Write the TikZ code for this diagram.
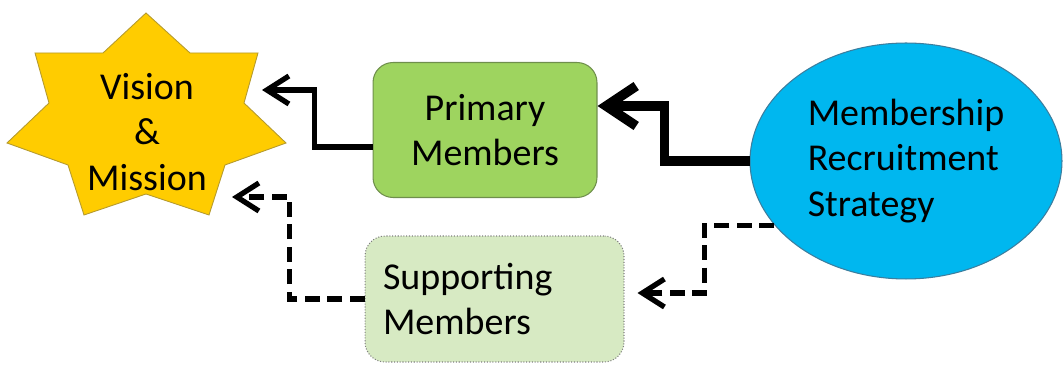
\documentclass[tikz,border=0pt]{standalone}
\usepackage{fontspec}
\setmainfont{Carlito}
\usetikzlibrary{shapes.geometric,arrows.meta}

\definecolor{starfill}{HTML}{FFCC00}
\definecolor{starline}{HTML}{B59A2E}
\definecolor{primfill}{HTML}{9ED45F}
\definecolor{primline}{HTML}{6F8F4C}
\definecolor{suppfill}{HTML}{D7EAC3}
\definecolor{strafill}{HTML}{00B7EF}
\definecolor{straline}{HTML}{3C7E9E}

\begin{document}
\begin{tikzpicture}[x=.02cm, y=-.02cm,
    every node/.style={font=\fontsize{21.6}{26}\selectfont, text=black},
    membox/.style={rectangle, rounded corners=.4cm, line width=.6pt},
    thinarrow/.style={line width=3pt, line join=miter, -{Straight Barb[length=.44cm,width=.56cm]}},
    thickarrow/.style={line width=5.5pt, line join=miter, -{Straight Barb[length=.6cm,width=.8cm]}},
    dasharrow/.style={thinarrow, dash pattern=on .3cm off .15cm}]
  \useasboundingbox (0,0) rectangle (1064,367);

  % seven point star
  \draw[fill=starfill, draw=starline, line width=.5pt] (146,13) -- (190,53) -- (258,53) -- (244,103)
    -- (286,143) -- (225,165) -- (209,215) -- (146,194) -- (84,215) -- (68,165)
    -- (7,143) -- (49,103) -- (35,53) -- (103,53) -- cycle;
  \node[align=center] (vision) at (147,132) {Vision\\\&\\Mission};
  \coordinate (vin1) at (262,90);
  \coordinate (vin2) at (232,197);

  \node[membox, fill=primfill, draw=primline, minimum width=4.48cm, minimum height=2.7cm,
    align=center] (primary) at (485,130) {Primary\\Members};
  \node[membox, fill=suppfill, draw=gray, densely dotted, minimum height=2.52cm,
    text width=4.46cm, inner xsep=.36cm, align=left] (support) at (494.5,299) {Supporting\\Members};

  \node[ellipse, fill=strafill, draw=straline, line width=.6pt, inner sep=0pt,
    minimum width=6.24cm, minimum height=4.72cm, align=left] (strategy) at (906,161)
    {Membership\\Recruitment\\Strategy};

  % connectors
  \draw[thinarrow] ([yshift=-.34cm]primary.west) -- ++(-58,0) |- (vin1);
  \draw[thickarrow] (strategy.west) -- ++(-85,0) |- ([yshift=.48cm]primary.east);
  \draw[dasharrow, shorten >=.26cm] (strategy.206) -- ++(-70,0) |- ([yshift=.12cm]support.east);
  \draw[dasharrow] (support.west) -- ++(-75,0) |- (vin2);
\end{tikzpicture}
\end{document}
